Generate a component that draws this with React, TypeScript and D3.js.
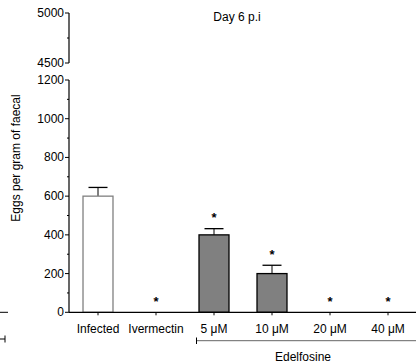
import React from "react";
import * as d3 from "d3";

const categories = ["Infected", "Ivermectin", "5 μM", "10 μM", "20 μM", "40 μM"];
const values = [600, 0, 400, 200, 0, 0];
const errors = [45, 0, 32, 43, 0, 0];
const significant = [false, true, true, true, true, true];
const fills = ["#ffffff", "#808080", "#808080", "#808080", "#808080", "#808080"];
const strokes = ["#808080", "#000000", "#000000", "#000000", "#000000", "#000000"];
const lowerMajorTicks = [0, 200, 400, 600, 800, 1000, 1200];
const upperMajorTicks = [4500, 5000];
const lowerMinorTicks = [100, 300, 500, 700, 900, 1100];
const upperMinorTicks = [4750];
const title = "Day 6 p.i";
const yLabel = "Eggs per gram of faecal";
const groupLabel = "Edelfosine";

const W = 416;
const H = 363;
const FONT = "'Liberation Sans', Arial, sans-serif";

export default function App() {
  const axisX = 69;
  const x = d3.scaleBand<string>().domain(categories).range([69, 417]).paddingInner(0.483).paddingOuter(0.2415);
  const yLow = d3.scaleLinear().domain([0, 1200]).range([312.3, 80]);
  const yUp = d3.scaleLinear().domain([4500, 5000]).range([63, 13]);
  const bw = x.bandwidth();

  return (
    <svg width={W} height={H} style={{ position: "absolute", left: 0, top: 0, background: "#fff" }} fontFamily={FONT}>
      {/* title */}
      <text x={237} y={21} fontSize={12} textAnchor="middle">{title}</text>
      {/* y label */}
      <text transform={`translate(20,158) rotate(-90)`} fontSize={12} textAnchor="middle">{yLabel}</text>

      {/* bars */}
      {categories.map((c, i) => {
        const cx = x(c)! + bw / 2;
        const top = yLow(values[i]);
        const errTop = yLow(values[i] + errors[i]);
        return (
          <g key={c}>
            {values[i] > 0 && (
              <>
                <line x1={cx} x2={cx} y1={top} y2={errTop} stroke="#000" strokeWidth={1} />
                <line x1={cx - 9.5} x2={cx + 9.5} y1={errTop} y2={errTop} stroke="#000" strokeWidth={1.3} />
                <rect x={x(c)!} y={top} width={bw} height={yLow(0) - top} fill={fills[i]} stroke={strokes[i]} strokeWidth={1.3} />
              </>
            )}
            {significant[i] && (
              <text x={cx} y={(values[i] > 0 ? errTop : yLow(0)) - 6.5} fontSize={13} fontWeight="bold" textAnchor="middle">*</text>
            )}
          </g>
        );
      })}

      {/* upper y axis segment */}
      <line x1={axisX} x2={axisX} y1={yUp(5000)} y2={yUp(4500)} stroke="#000" strokeWidth={1.2} />
      {upperMajorTicks.map((t) => (
        <g key={t}>
          <line x1={axisX - 4} x2={axisX} y1={yUp(t)} y2={yUp(t)} stroke="#000" strokeWidth={1} />
          <text x={axisX - 5} y={yUp(t) + 4} fontSize={12} textAnchor="end">{t}</text>
        </g>
      ))}
      {upperMinorTicks.map((t) => (
        <line key={t} x1={axisX - 2} x2={axisX} y1={yUp(t)} y2={yUp(t)} stroke="#000" strokeWidth={1} />
      ))}

      {/* lower y axis segment */}
      <line x1={axisX} x2={axisX} y1={yLow(1200)} y2={yLow(0)} stroke="#000" strokeWidth={1.2} />
      {lowerMajorTicks.map((t) => (
        <g key={t}>
          <line x1={axisX - 4} x2={axisX} y1={yLow(t)} y2={yLow(t)} stroke="#000" strokeWidth={1} />
          <text x={axisX - 5} y={yLow(t) + 4} fontSize={12} textAnchor="end">{t}</text>
        </g>
      ))}
      {lowerMinorTicks.map((t) => (
        <line key={t} x1={axisX - 2} x2={axisX} y1={yLow(t)} y2={yLow(t)} stroke="#000" strokeWidth={1} />
      ))}

      {/* x axis */}
      <line x1={axisX} x2={W} y1={yLow(0)} y2={yLow(0)} stroke="#000" strokeWidth={1.2} />
      {categories.map((c) => {
        const cx = x(c)! + bw / 2;
        return (
          <g key={c}>
            <line x1={cx} x2={cx} y1={yLow(0)} y2={yLow(0) + 3} stroke="#000" strokeWidth={1} />
            <text x={cx} y={yLow(0) + 21} fontSize={12} textAnchor="middle">{c}</text>
          </g>
        );
      })}

      {/* group bracket */}
      <line x1={x(categories[2])! - 2.5} x2={W} y1={340.7} y2={340.7} stroke="#666" strokeWidth={1} />
      <line x1={x(categories[2])! - 2.5} x2={x(categories[2])! - 2.5} y1={337.5} y2={344} stroke="#000" strokeWidth={1} />
      <text x={303} y={361} fontSize={12} textAnchor="middle">{groupLabel}</text>

      {/* stray marks from neighbouring panel */}
      <line x1={0} x2={8} y1={312.3} y2={312.3} stroke="#000" strokeWidth={1} />
      <line x1={0} x2={5} y1={339} y2={339} stroke="#000" strokeWidth={1} />
      <line x1={5} x2={5} y1={335.5} y2={342.5} stroke="#000" strokeWidth={1} />
    </svg>
  );
}
